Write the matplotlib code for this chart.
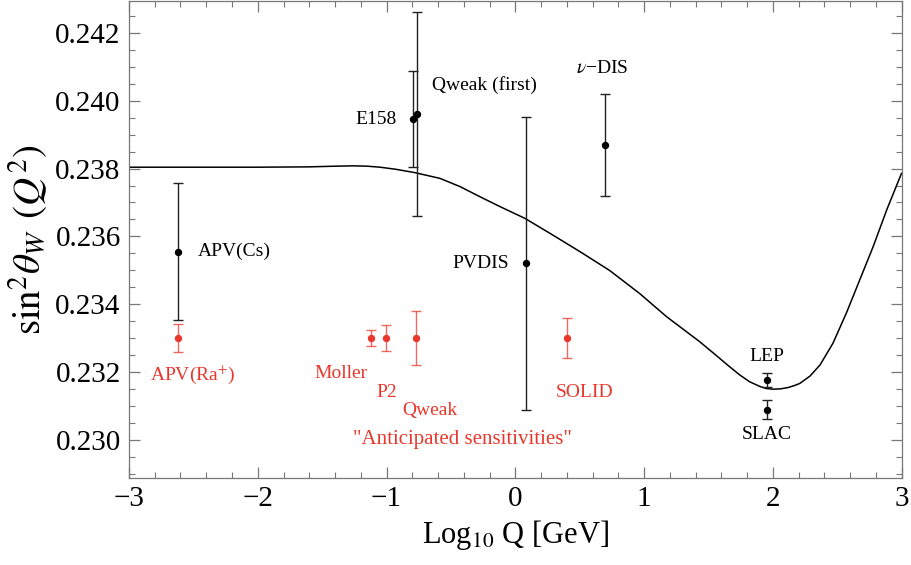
import matplotlib
matplotlib.use('Agg')
import matplotlib.pyplot as plt
from matplotlib.ticker import MultipleLocator

plt.rcParams['font.family'] = ['Liberation Serif', 'DejaVu Serif']
plt.rcParams['mathtext.fontset'] = 'stix'

# running weak mixing angle curve
curve_x = [-3.0, -2.5, -2.0, -1.6, -1.4, -1.26, -1.15, -1.05, -0.93, -0.78, -0.585,
           -0.43, -0.275, -0.12, 0.075, 0.269, 0.502, 0.734, 0.967, 1.175, 1.433,
           1.55, 1.65, 1.74, 1.82, 1.90, 1.95, 2.003, 2.06, 2.12, 2.17, 2.21, 2.29,
           2.368, 2.468, 2.572, 2.675, 2.779, 2.885, 3.0]
curve_y = [0.23804, 0.23804, 0.23804, 0.23805, 0.23807, 0.23808, 0.23807, 0.23804,
           0.23798, 0.23788, 0.23771, 0.23747, 0.23717, 0.23688, 0.23653, 0.23609,
           0.23555, 0.23499, 0.23431, 0.23363, 0.23289, 0.23252, 0.23220, 0.23192,
           0.23171, 0.23157, 0.23151, 0.23149, 0.23150, 0.23154, 0.23160, 0.23166,
           0.23188, 0.23221, 0.23285, 0.23374, 0.23471, 0.23569, 0.23678, 0.23786]

# measurements
meas_names = ['APV(Cs)', 'E158', 'Qweak (first)', 'PVDIS', r'$\nu$−DIS', 'LEP', 'SLAC']
meas_x = [-2.62, -0.795, -0.766, 0.080, 0.698, 1.956, 1.956]
meas_y = [0.23555, 0.23946, 0.23961, 0.23520, 0.23870, 0.23176, 0.23089]
meas_err = [0.00202, 0.00141, 0.00302, 0.00432, 0.00151, 0.00022, 0.00027]

# anticipated sensitivities
fut_names = [r'APV(Ra$^{+}$)', 'Moller', 'P2', 'Qweak', 'SOLID']
fut_x = [-2.62, -1.121, -1.002, -0.772, 0.400]
fut_y = [0.2330, 0.2330, 0.2330, 0.2330, 0.2330]
fut_err = [0.00040, 0.00024, 0.00037, 0.00080, 0.00060]

red = '#e8372c'

fig = plt.figure(figsize=(9.11, 5.65), dpi=100)
ax = fig.add_axes([0.1416, 0.154, 0.848, 0.844])

ax.plot(curve_x, curve_y, color='black', lw=1.1)

ax.errorbar(meas_x, meas_y, yerr=meas_err, fmt='o', color='black', ecolor='#222222',
            markersize=4.3, elinewidth=1.0, capsize=3.5, capthick=1.0)
ax.errorbar(fut_x, fut_y, yerr=fut_err, fmt='o', color=red, ecolor=(0.91, 0.22, 0.17, 0.75),
            markersize=4.3, elinewidth=1.0, capsize=3.5, capthick=1.0)

fs = 14
# black labels
ax.text(-2.464, 0.23556, 'APV(Cs)', fontsize=fs, ha='left', va='center')
ax.text(-0.919, 0.23946, 'E158', fontsize=fs, ha='right', va='center')
ax.text(-0.650, 0.24047, 'Qweak (first)', fontsize=fs, ha='left', va='center')
ax.text(0.470, 0.24096, r'$\nu$−DIS', fontsize=fs, ha='left', va='center')
ax.text(-0.047, 0.23520, 'PVDIS', fontsize=fs, ha='right', va='center')
ax.text(1.953, 0.23245, 'LEP', fontsize=fs, ha='center', va='center')
ax.text(1.953, 0.23014, 'SLAC', fontsize=fs, ha='center', va='center')

# red labels
ax.text(-2.837, 0.23191, r'APV(Ra$^{+}$)', fontsize=fs, ha='left', va='center', color=red)
ax.text(-1.144, 0.23194, 'Moller', fontsize=fs, ha='right', va='center', color=red)
ax.text(-1.078, 0.23139, 'P2', fontsize=fs, ha='left', va='center', color=red)
ax.text(-0.877, 0.23087, 'Qweak', fontsize=fs, ha='left', va='center', color=red)
ax.text(0.313, 0.23139, 'SOLID', fontsize=fs, ha='left', va='center', color=red)
ax.text(-0.411, 0.23000, '"Anticipated sensitivities"', fontsize=15, ha='center', va='center', color=red)

ax.set_xlim(-3, 3)
ax.set_ylim(0.22887, 0.24294)
ax.xaxis.set_major_locator(MultipleLocator(1))
ax.xaxis.set_minor_locator(MultipleLocator(0.2))
ax.yaxis.set_major_locator(MultipleLocator(0.002))
ax.yaxis.set_minor_locator(MultipleLocator(0.0005))
ax.yaxis.set_major_formatter(matplotlib.ticker.FormatStrFormatter('%.3f'))
ax.xaxis.set_major_formatter(matplotlib.ticker.FuncFormatter(lambda v, p: '%d' % v if v >= 0 else '−%d' % -v))

ax.tick_params(which='both', direction='in', top=True, right=True, color='#777777', labelsize=21, pad=6)
ax.tick_params(which='major', length=8, width=0.9)
ax.tick_params(which='minor', length=4.5, width=0.8)
for s in ax.spines.values():
    s.set_color('#777777')
    s.set_linewidth(0.9)

ax.set_xlabel(r'Log$_{10}$ Q [GeV]', fontsize=22, labelpad=4)
ax.set_ylabel(r'$\sin^2\!\theta_W\;\,(Q^2)$', fontsize=28, labelpad=4)

fig.savefig('out.png', dpi=100)
